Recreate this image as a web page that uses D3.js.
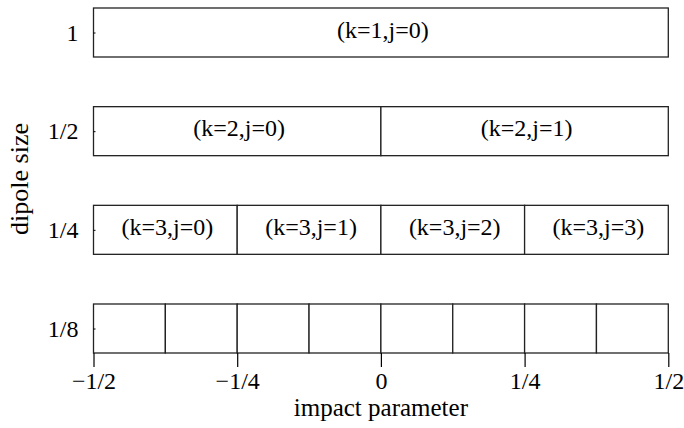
<!DOCTYPE html>
<meta charset="utf-8">
<body style="margin:0">
<script src="https://cdn.jsdelivr.net/npm/d3@7"></script>
<script>

var width = 684,
    height = 428;

// rows of the picture: dipole size and how many cells it is split into
var sizes = ["1", "1/2", "1/4", "1/8"];
var cellCounts = [1, 2, 4, 8];
var cellLabels = [
  ["(k=1,j=0)"],
  ["(k=2,j=0)", "(k=2,j=1)"],
  ["(k=3,j=0)", "(k=3,j=1)", "(k=3,j=2)", "(k=3,j=3)"],
  []
];

var xTicks = [-0.5, -0.25, 0, 0.25, 0.5];
var xTickLabels = ["\u22121/2", "\u22121/4", "0", "1/4", "1/2"];

var x = d3.scaleLinear().domain([-0.5, 0.5]).range([93.5, 668.3]);
var y = d3.scalePoint().domain(sizes).range([32.5, 328.5]);
var boxH = 49;
var serif = "'Liberation Serif'";

var svg = d3.select("body").append("svg")
  .attr("width", width)
  .attr("height", height);

// build cells from the row data
var cells = [];
sizes.forEach(function(s, i) {
  var n = cellCounts[i];
  for (var j = 0; j < n; j++) {
    cells.push({
      size: s,
      x0: -0.5 + j / n,
      x1: -0.5 + (j + 1) / n,
      label: cellLabels[i][j] || ""
    });
  }
});

svg.selectAll("rect").data(cells).enter().append("rect")
  .attr("x", function(d) { return x(d.x0); })
  .attr("width", function(d) { return x(d.x1) - x(d.x0); })
  .attr("y", function(d) { return y(d.size) - boxH / 2; })
  .attr("height", boxH)
  .attr("fill", "#fff")
  .attr("stroke", "#222")
  .attr("stroke-width", 1.3);

// x axis along the bottom of the last row
var xAxis = svg.append("g")
  .attr("transform", "translate(0," + (y("1/8") + boxH / 2) + ")")
  .call(d3.axisBottom(x).tickValues(xTicks)
    .tickFormat(function(d, i) { return xTickLabels[i]; })
    .tickSize(14).tickPadding(5));
xAxis.select(".domain").remove();
xAxis.selectAll("line").attr("stroke-width", 1.2);

// y axis labels
var yAxis = svg.append("g")
  .attr("transform", "translate(" + x(-0.5) + ",0)")
  .call(d3.axisLeft(y).tickSize(-2).tickPadding(15));
yAxis.select(".domain").remove();

xAxis.attr("font-family", null).attr("font-size", null);
yAxis.attr("font-family", null).attr("font-size", null);

svg.selectAll(".lab").data(cells.filter(function(d) { return d.label; }))
  .enter().append("text")
  .attr("class", "lab")
  .attr("x", function(d) { return x((d.x0 + d.x1) / 2) + 2; })
  .attr("y", function(d) { return y(d.size) + 5; })
  .attr("text-anchor", "middle")
  .text(function(d) { return d.label; });

svg.selectAll("text")
  .style("font-family", serif)
  .style("font-size", "24px")
  .attr("fill", "#000");

svg.append("text")
  .attr("x", x(0))
  .attr("y", 416)
  .attr("text-anchor", "middle")
  .style("font-family", serif)
  .style("font-size", "25px")
  .text("impact parameter");

svg.append("text")
  .attr("transform", "translate(28,179) rotate(-90)")
  .attr("text-anchor", "middle")
  .style("font-family", serif)
  .style("font-size", "26px")
  .text("dipole size");

</script>
</body>
